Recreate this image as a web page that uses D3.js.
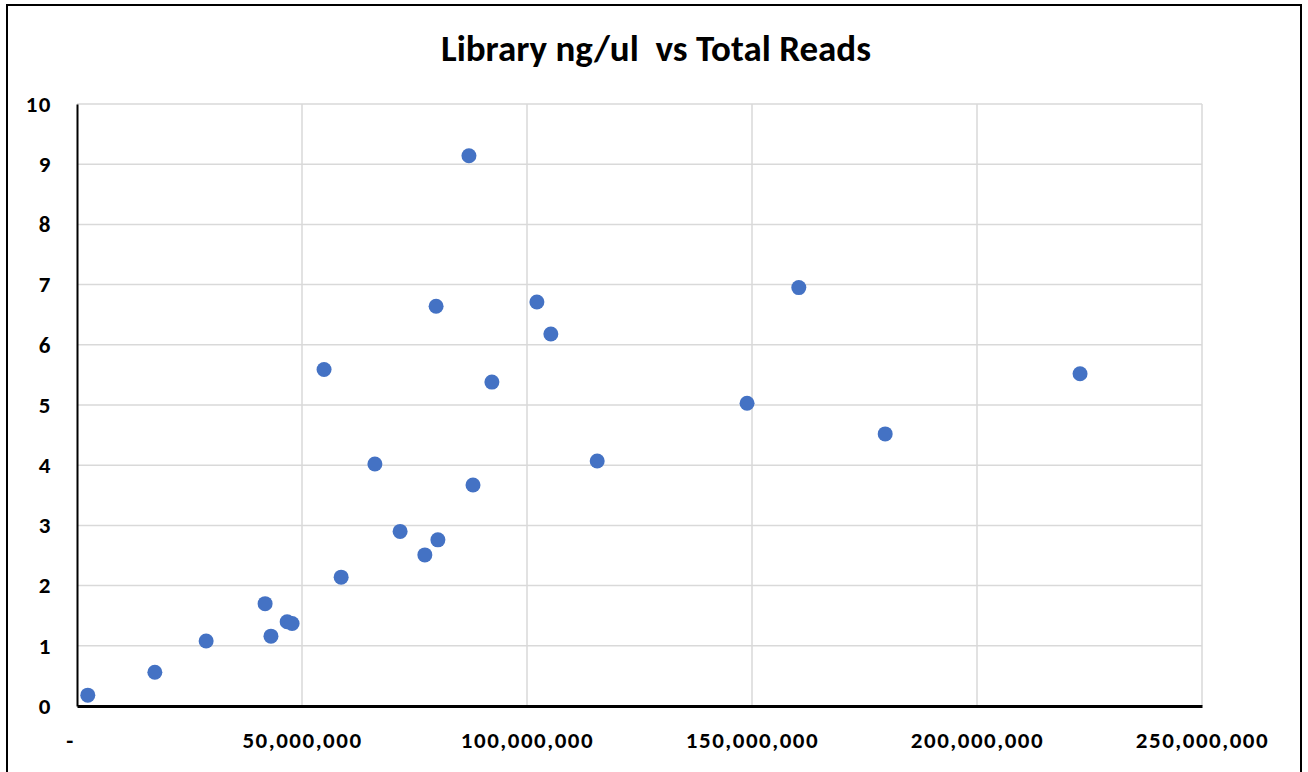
<!DOCTYPE html>
<html><head><meta charset="utf-8">
<script src="https://cdn.jsdelivr.net/npm/d3@7"></script>
<style>body{margin:0;background:#fff;} svg{display:block;}</style>
</head><body>
<script>
const title = "Library ng/ul  vs Total Reads";
const totalReads = [2.4e6, 17.3e6, 28.7e6, 41.8e6, 43.1e6, 46.7e6, 47.8e6, 54.9e6, 58.7e6, 66.2e6, 71.8e6, 77.3e6, 79.8e6, 80.2e6, 87.1e6, 88.0e6, 92.2e6, 102.2e6, 105.3e6, 115.6e6, 148.9e6, 160.4e6, 179.6e6, 222.9e6];
const libraryNgUl = [0.18, 0.56, 1.08, 1.70, 1.16, 1.40, 1.37, 5.59, 2.14, 4.02, 2.90, 2.51, 6.64, 2.76, 9.14, 3.67, 5.38, 6.71, 6.18, 4.07, 5.03, 6.95, 4.52, 5.52];
const xTicks = [0, 50e6, 100e6, 150e6, 200e6, 250e6];
const yTicks = [0,1,2,3,4,5,6,7,8,9,10];

const W = 1308, H = 772;
const svg = d3.select("body").append("svg").attr("width", W).attr("height", H);
const font = "Carlito, Calibri, Lato, 'Open Sans', sans-serif";

svg.append("rect").attr("x", 7).attr("y", 5).attr("width", 1294).attr("height", 800)
  .attr("fill", "#fff").attr("stroke", "#000").attr("stroke-width", 2);

const x = d3.scaleLinear().domain([0, 250e6]).range([77, 1202]);
const y = d3.scaleLinear().domain([0, 10]).range([706, 104]);

const fmt = d => d === 0 ? "-" : d3.format(",")(d);

// gridlines
svg.append("g").selectAll("line").data(yTicks.filter(d => d > 0)).join("line")
  .attr("x1", x(0)).attr("x2", x(250e6)).attr("y1", d => y(d)).attr("y2", d => y(d))
  .attr("stroke", "#d9d9d9").attr("stroke-width", 1.5);
svg.append("g").selectAll("line").data(xTicks.filter(d => d > 0)).join("line")
  .attr("x1", d => x(d)).attr("x2", d => x(d)).attr("y1", y(0)).attr("y2", y(10))
  .attr("stroke", "#d9d9d9").attr("stroke-width", 1.5);

// axes
const yAxis = d3.axisLeft(y).tickValues(yTicks).tickSize(0).tickPadding(25);
const gy = svg.append("g").attr("transform", `translate(${x(0)},0)`).call(yAxis);
gy.select(".domain").attr("stroke", "#000").attr("stroke-width", 2);
gy.selectAll("text").attr("font-family", font).attr("font-size", 23).attr("font-weight", "bold")
  .attr("letter-spacing", 1.5).attr("fill", "#000");

const xAxis = d3.axisBottom(x).tickValues(xTicks).tickFormat(fmt).tickSize(0).tickPadding(26);
const gx = svg.append("g").attr("transform", `translate(0,${y(0)})`).call(xAxis);
gx.select(".domain").attr("stroke", "#000").attr("stroke-width", 3);
gx.selectAll("text").attr("font-family", font).attr("font-size", 23).attr("font-weight", "bold")
  .attr("letter-spacing", 1.5).attr("fill", "#000");
gx.selectAll(".tick").filter(d => d === 0).select("text").attr("dx", -7);

// points
svg.append("g").selectAll("circle").data(totalReads.map((v, i) => [v, libraryNgUl[i]])).join("circle")
  .attr("cx", d => x(d[0])).attr("cy", d => y(d[1])).attr("r", 7.5).attr("fill", "#4472C4");

svg.append("text").attr("x", 656).attr("y", 61).attr("text-anchor", "middle")
  .style("white-space", "pre").attr("xml:space", "preserve")
  .attr("font-family", font).attr("font-size", 37).attr("font-weight", "bold").text(title);
</script>
</body></html>
